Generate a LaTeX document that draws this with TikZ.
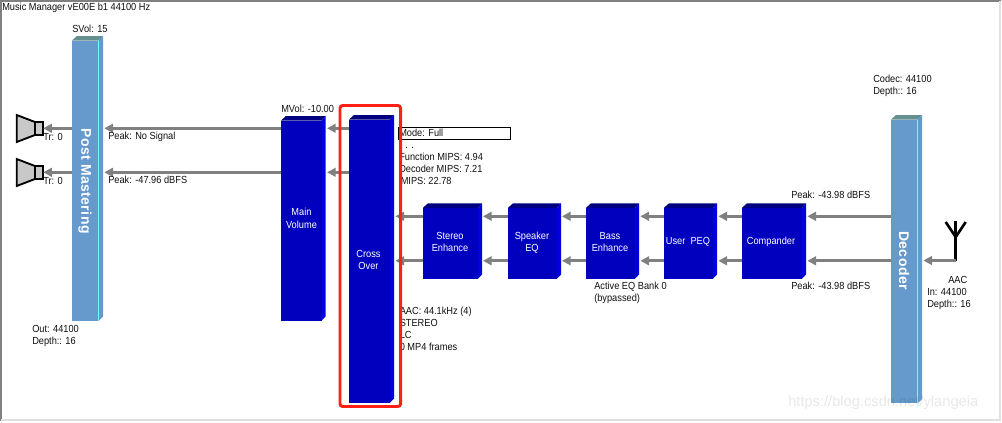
\documentclass[tikz,border=0pt]{standalone}
\usepackage{fontspec}
\setmainfont[FakeStretch=0.9]{Liberation Sans}
\newfontfamily\spacedbold[LetterSpace=3]{Liberation Sans Bold}
\newfontfamily\plainsans{Liberation Sans}
\usetikzlibrary{arrows.meta,calc}
\definecolor{blockfront}{HTML}{0000BE}
\definecolor{blocktop}{HTML}{000080}
\definecolor{blockside}{HTML}{0000E0}
\definecolor{stagefront}{HTML}{6699CC}
\definecolor{stagetop}{HTML}{669090}
\definecolor{stageedge}{HTML}{66FFFF}
\definecolor{wire}{HTML}{808080}
\definecolor{halo}{HTML}{FF2015}
\definecolor{conefill}{HTML}{C8C8C8}
\definecolor{inktext}{HTML}{101010}
\tikzset{
  x=0.75pt,y=-0.75pt,
  footprint/.style={draw=none,fill=none,inner sep=0pt,outer sep=0pt,anchor=north west},
  txt/.style={font=\fontsize{7.7pt}{10pt}\selectfont,text=inktext,inner sep=0pt,anchor=west,text height=5.6pt,text depth=1.5pt},
  whitetxt/.style={font=\fontsize{7.7pt}{10pt}\selectfont,text=white,inner sep=0pt,anchor=center,text height=5.6pt,text depth=1.5pt},
  stagetxt/.style={font=\fontsize{10.5pt}{12pt}\selectfont\spacedbold,text=white,inner sep=0pt,rotate=-90,anchor=center},
  conn/.style={draw=wire,line width=2.5pt,-{Triangle[length=6.5pt,width=6.5pt,fill=wire]},shorten >=1pt},
  coneline/.style={draw=black,line width=1.4pt,fill=conefill,line join=miter},
  mast/.style={draw=black,line width=2pt},
}
% #1 name, #2 x1, #3 x2 incl. side, #4 y top, #5 y bottom, #6 front, #7 top, #8 side
\newcommand{\solidblock}[8]{%
  \pgfmathsetmacro{\blkwd}{(#3-#2)*0.75}%
  \pgfmathsetmacro{\blkht}{(#5-#4)*0.75}%
  \node[footprint,minimum width=\blkwd pt,minimum height=\blkht pt] (#1) at (#2,#4) {};
  \fill[#7] (#2,#4+4.5) -- (#2+5,#4) -- (#3,#4) -- (#3-4,#4+4.5) -- cycle;
  \fill[#8] (#3-4,#4+4.5) -- (#3,#4) -- (#3,#5-4) -- (#3-4,#5) -- cycle;
  \fill[#6] (#2,#4+4.5) rectangle (#3-4,#5);
}
\begin{document}
\begin{tikzpicture}
\useasboundingbox (0,0) rectangle (1002,422);
\fill[white] (0,0) rectangle (1002,422);
% window frame
\draw[draw=wire,line width=1.3pt] (1,421) -- (1,1) -- (1001,1);
\draw[draw=black!12,line width=1pt] (1000,1) -- (1000,420) -- (1,420);

% row guides
\coordinate (rowA) at (0,128.3);
\coordinate (rowB) at (0,172.3);
\coordinate (rowC) at (0,216.3);
\coordinate (rowD) at (0,260.8);

% blocks
\solidblock{post}{72}{103}{36}{320.5}{stagefront}{stagetop}{stagefront}
\draw[stageedge,line width=0.6pt] (98.6,40.5) -- (98.6,320.5);
\solidblock{mainvol}{281}{325.7}{116}{320.5}{blockfront}{blocktop}{blockside}
\solidblock{xover}{349}{394}{115}{402.7}{blockfront}{blocktop}{blockside}
\solidblock{stereo}{423}{482}{203.3}{278.7}{blockfront}{blocktop}{blockside}
\solidblock{spk}{508}{561}{203.3}{278.7}{blockfront}{blocktop}{blockside}
\solidblock{bass}{586}{639}{203.3}{278.7}{blockfront}{blocktop}{blockside}
\solidblock{upeq}{664}{717}{203.3}{278.7}{blockfront}{blocktop}{blockside}
\solidblock{comp}{742}{806}{203.3}{278.7}{blockfront}{blocktop}{blockside}
\solidblock{dec}{891}{922}{115}{403}{stagefront}{stagetop}{stagefront}
\draw[stageedge,line width=0.6pt] (917.6,119.5) -- (917.6,403);

% block labels
\node[stagetxt] (postlbl) at (85,181) {Post Mastering};
\node[stagetxt] (declbl) at (904,260.5) {Decoder};
\node[whitetxt] (mv1) at (301.5,213) {Main};
\node[whitetxt] (mv2) at (301.5,226) {Volume};
\node[whitetxt] (xo1) at (368.5,255) {Cross};
\node[whitetxt] (xo2) at (368.5,267) {Over};
\node[whitetxt] (st1) at (450,237) {Stereo};
\node[whitetxt] (st2) at (450,249) {Enhance};
\node[whitetxt] (sp1) at (532,237) {Speaker};
\node[whitetxt] (sp2) at (532,249) {EQ};
\node[whitetxt] (ba1) at (610,237) {Bass};
\node[whitetxt] (ba2) at (610,249) {Enhance};
\node[whitetxt] (up1) at (688,242) {User\ \ PEQ};
\node[whitetxt] (co1) at (771,242) {Compander};

% speakers
\foreach \nm/\dy in {spkA/0,spkB/44}{
  \draw[coneline] (16.7,115+\dy) -- (35,122+\dy) -- (35,135+\dy) -- (16.7,142+\dy) -- cycle;
  \node[draw=black,line width=1.4pt,fill=conefill,minimum width=6pt,minimum height=9.5pt,inner sep=0pt,outer sep=0pt] (\nm) at (39.2,128.5+\dy) {};
}

% antenna
\node[inner sep=0pt,outer sep=0pt,minimum size=0pt] (ant) at (955.7,260.5) {};
\coordinate (antTop) at (955.7,221);
\coordinate (antL) at (945.7,222);
\coordinate (antR) at (965.7,222);
\coordinate (antJ) at (955.7,237);
\draw[mast] (ant) -- (antTop);
\draw[mast] (antL) -- (antJ) -- (antR);

% connectors
\draw[conn,shorten >=0pt] (post.west |- rowA) -- (spkA.east |- rowA);
\draw[conn,shorten >=0pt] (post.west |- rowB) -- (spkB.east |- rowB);
\draw[conn] (mainvol.west |- rowA) -- (post.east |- rowA);
\draw[conn] (mainvol.west |- rowB) -- (post.east |- rowB);
\draw[conn] (xover.west |- rowA) -- (mainvol.east |- rowA);
\draw[conn] (xover.west |- rowB) -- (mainvol.east |- rowB);
\draw[conn] (stereo.west |- rowC) -- (xover.east |- rowC);
\draw[conn] (stereo.west |- rowD) -- (xover.east |- rowD);
\draw[conn,shorten >=0.7pt] (spk.west |- rowC) -- (stereo.east |- rowC);
\draw[conn,shorten >=0.7pt] (spk.west |- rowD) -- (stereo.east |- rowD);
\draw[conn,shorten >=0.7pt] (bass.west |- rowC) -- (spk.east |- rowC);
\draw[conn,shorten >=0.7pt] (bass.west |- rowD) -- (spk.east |- rowD);
\draw[conn] (upeq.west |- rowC) -- (bass.east |- rowC);
\draw[conn] (upeq.west |- rowD) -- (bass.east |- rowD);
\draw[conn] (comp.west |- rowC) -- (upeq.east |- rowC);
\draw[conn] (comp.west |- rowD) -- (upeq.east |- rowD);
\draw[conn] (dec.west |- rowC) -- (comp.east |- rowC);
\draw[conn] (dec.west |- rowD) -- (comp.east |- rowD);
\draw[conn] (ant) -- (dec.east |- ant);

% mode box
\node[draw=black,line width=0.75pt,fill=white,minimum width=84pt,minimum height=9.3pt,inner sep=0pt,outer sep=0pt,anchor=north west] (modebox) at (398,127) {};

% text
\node[txt] (t1) at (2,8) {Music Manager vE00E b1 44100 Hz};
\node[txt] (t2) at (72,30) {SVol: 15};
\node[txt] (t3) at (281,110) {MVol: -10.00};
\node[txt] (t4) at (108,137) {Peak: No Signal};
\node[txt] (t5) at (108,181) {Peak: -47.96 dBFS};
\node[txt] (t6) at (43,137.5) {Tr: 0};
\node[txt] (t7) at (43,181.5) {Tr: 0};
\node[txt] (t8) at (32,330) {Out: 44100};
\node[txt] (t9) at (32,342) {Depth:: 16};
\node[txt] (t10) at (399,134) {Mode: Full};
\node[txt] (t11) at (405,146) {. .};
\node[txt] (t12) at (399,158) {Function MIPS: 4.94};
\node[txt] (t13) at (399,170) {Decoder MIPS: 7.21};
\node[txt] (t14) at (400.5,182) {MIPS: 22.78};
\node[txt] (t15) at (399.5,312) {AAC: 44.1kHz (4)};
\node[txt] (t16) at (399.5,324) {STEREO};
\node[txt] (t17) at (399.5,336) {LC};
\node[txt] (t18) at (399.5,348) {0 MP4 frames};
\node[txt] (t19) at (594,287) {Active EQ Bank 0};
\node[txt] (t20) at (594,299) {(bypassed)};
\node[txt] (t21) at (791,196) {Peak: -43.98 dBFS};
\node[txt] (t22) at (791,287) {Peak: -43.98 dBFS};
\node[txt] (t23) at (873,80) {Codec: 44100};
\node[txt] (t24) at (873,92) {Depth:: 16};
\node[txt] (t25) at (948,281) {AAC};
\node[txt] (t26) at (927,293) {In: 44100};
\node[txt] (t27) at (927,305) {Depth:: 16};

% highlight frame
\node[draw=halo,line width=2.2pt,rounded corners=2pt,minimum width=45.4pt,minimum height=225.75pt,inner sep=0pt,outer sep=0pt,anchor=north west] (redframe) at (340,105.5) {};

% watermark
\node[font=\fontsize{11pt}{13pt}\selectfont\plainsans,text=black,text opacity=0.09,inner sep=0pt,anchor=west] (wm) at (788,403) {https://blog.csdn.net/ylangeia};
\end{tikzpicture}
\end{document}
